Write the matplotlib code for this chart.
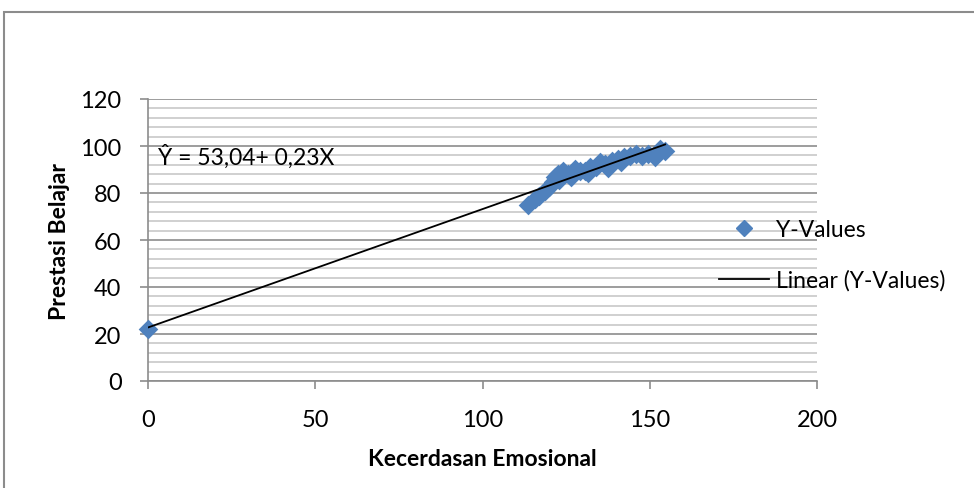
import numpy as np
import matplotlib.pyplot as plt
from matplotlib.lines import Line2D
from matplotlib.patches import Rectangle
from matplotlib.ticker import MultipleLocator

plt.rcParams['font.family'] = ['Lato', 'DejaVu Sans']

# data
kecerdasan = [0, 113.6, 115.7, 117, 118.7, 120, 121, 121.7, 122.6, 123, 124, 125.6,
              126.5, 127.7, 129, 130.6, 131.5, 132, 134, 135, 136.6, 137.5, 138.7,
              140.5, 141.5, 142.3, 144, 146, 147.7, 149.5, 151.6, 153, 154.6]
prestasi = [22, 74.9, 77.4, 78.7, 80.9, 82.5, 84.7, 86.8, 88, 85.5, 89.4, 88,
            87, 90.2, 89.4, 89.4, 88.3, 91, 91, 93, 92.3, 90.8, 93.6,
            94.5, 93, 95.3, 95.7, 96.6, 95.7, 96.6, 95.3, 98.7, 97.9]
equation = "Ŷ = 53,04+ 0,23X"

x = np.array(kecerdasan)
y = np.array(prestasi)

fig = plt.figure(figsize=(9.74, 4.89), dpi=100)
ax = fig.add_axes([148/974, 107/489, 669/974, 282/489])

blue = '#4F81BD'
ax.scatter(x, y, marker='D', s=100, color=blue, zorder=3, linewidths=0, clip_on=False)

# linear trendline
b, a = np.polyfit(x, y, 1)
xt = np.array([x.min(), x.max()])
ax.plot(xt, a + b * xt, color='black', lw=1.3, zorder=4)

ax.text(3, 95.7, equation, fontsize=16.5, va='center', ha='left', zorder=5)

ax.set_xlim(0, 200)
ax.set_ylim(0, 120)
ax.xaxis.set_major_locator(MultipleLocator(50))
ax.yaxis.set_major_locator(MultipleLocator(20))
ax.yaxis.set_minor_locator(MultipleLocator(4))
ax.grid(True, which='major', axis='y', color='#8c8c8c', lw=1.2)
ax.grid(True, which='minor', axis='y', color='#c8c8c8', lw=1.2)
ax.set_axisbelow(True)

for s in ['top', 'right']:
    ax.spines[s].set_visible(False)
for s in ['left', 'bottom']:
    ax.spines[s].set_color('#8c8c8c')
    ax.spines[s].set_linewidth(1.2)

ax.tick_params(which='major', direction='out', length=6, color='#8c8c8c',
               width=1.2, labelsize=17)
ax.tick_params(axis='x', pad=14)
ax.tick_params(axis='y', pad=13)
ax.tick_params(which='minor', length=0)

ax.set_xlabel('Kecerdasan Emosional', fontsize=16.5, fontweight='bold', labelpad=13)
ax.set_ylabel('Prestasi Belajar', fontsize=16.5, fontweight='bold')
ax.yaxis.set_label_coords(-0.1166, 0.5)

handles = [Line2D([], [], marker='D', color=blue, ls='none', markersize=8),
           Line2D([], [], color='black', lw=1.3)]
fig.legend(handles, ['Y-Values', 'Linear (Y-Values)'], loc='center left',
           bbox_to_anchor=(698/974, 1 - 256/489), frameon=False, fontsize=16.5,
           handlelength=2.2, handletextpad=0.3, labelspacing=1.25)

# outer chart border
fig.patches.append(Rectangle((4/974, -0.1), 1.0, 1.1 - 13/489, transform=fig.transFigure,
                             fill=False, edgecolor='#8c8c8c', lw=1.5))

fig.savefig('out.png', dpi=100)
